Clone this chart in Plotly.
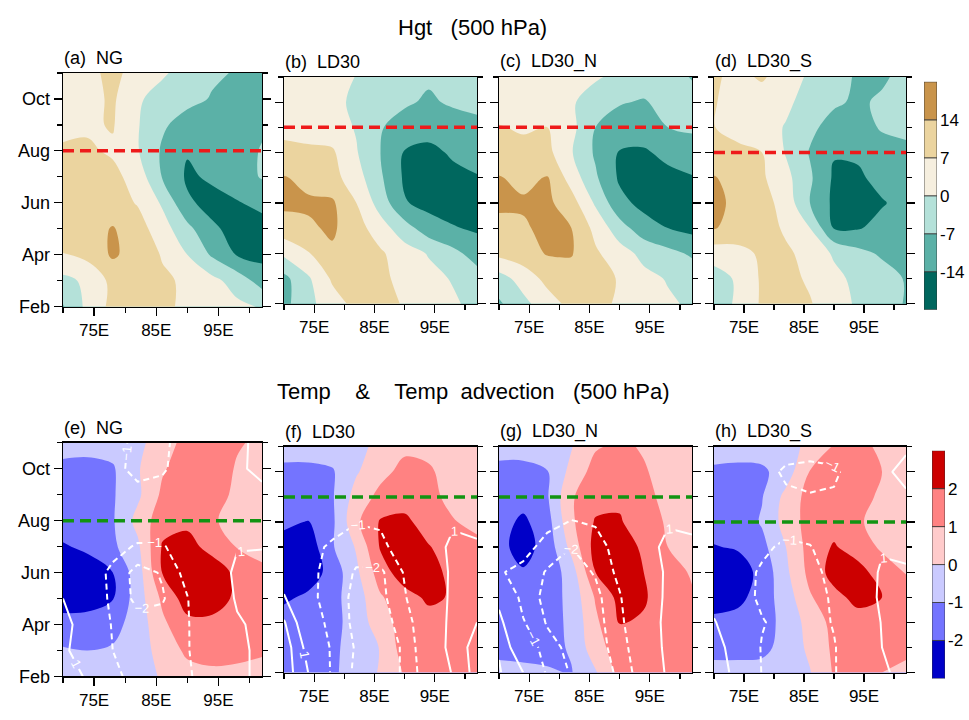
import plotly.graph_objects as go

# ---------------- data ----------------
LONS = [70, 74, 78, 82, 86, 90, 94, 98, 102]
MONTHS = [11, 10, 9, 8, 7, 6, 5, 4, 3, 2]          # rows of every grid, top -> bottom
MONTH_TICKS = [2, 4, 6, 8, 10]
MONTH_LABELS = ["Feb", "Apr", "Jun", "Aug", "Oct"]
MONTH_MINOR = [3, 5, 7, 9, 11]
LON_TICKS = [75, 85, 95]
LON_LABELS = ["75E", "85E", "95E"]
LON_MINOR = [70, 80, 90, 100]

HGT_LEVELS = [-14, -7, 0, 7, 14]
TEMP_LEVELS = [-2, -1, 0, 1, 2]
HGT_COLORS = ["#00675E", "#5BB1A7", "#B4E1D9", "#F6EFDF", "#EBD49F", "#C9944B"]
TEMP_COLORS = ["#0000C8", "#7474FF", "#CACAFF", "#FFCBCB", "#FF8282", "#CC0000"]

TOP_NAMES = ["(a)  NG", "(b)  LD30", "(c)  LD30_N", "(d)  LD30_S"]
BOT_NAMES = ["(e)  NG", "(f)  LD30", "(g)  LD30_N", "(h)  LD30_S"]
TOP_LINE_MONTH = [8, 9, 9, 8]
BOT_LINE_MONTH = [8, 9, 9, 8]

HGT_NG = [
    [3, 5, 9, 4, 1, -3, -6, -7.5, -9],
    [4, 5, 8, 1, -3, -5, -7.5, -9, -8.5],
    [5, 6, 7.5, 0.5, -6, -10, -12, -11, -8],
    [8, 8, 6, 0.5, -8, -13.5, -13, -10, -6.5],
    [9, 10, 9, 4, -7.5, -15, -13, -10, -6.5],
    [10, 10, 10, 6.5, -1, -13, -16, -14.5, -12],
    [10, 11, 14.5, 10, 3, -5, -13, -16, -17],
    [6.8, 9, 15, 11, 6.5, 0, -8, -14.5, -16],
    [-2, 1.5, 9, 9.5, 8, 6, 2, -3, -10],
    [-7.5, 2, 9, 9, 8, 6, 3, 1.5, -0.5],
]
HGT_LD30 = [
    [3, 3, 2.5, -0.2, -3, -4, -6, -4, -3],
    [3, 2, 2, -1.5, -4, -6, -8, -6, -5],
    [6, 4, 3, -0.5, -6.5, -10, -11, -10.5, -9],
    [8, 8.5, 8, 0.5, -7, -14.5, -16, -13, -11],
    [14.5, 12, 9.5, 3, -6, -15, -17, -16, -14.5],
    [15.5, 15, 15, 7, -3, -13.5, -16, -17, -16],
    [11, 13, 15, 10, 3, -4, -11, -13.5, -15],
    [1.5, 6.5, 13, 10, 8, 3, -0.5, -5, -10],
    [-9, -1, 8, 10, 8.5, 5, 2, -0.5, -4],
    [-9, -2, 4, 9, 9, 6.5, 3, 1, -2],
]
HGT_LD30_N = [
    [3, 3, 3, 2.5, 1, -2, -4, -4, -7.5],
    [3, 3, 3, 1, -4, -6.5, -7.5, -5, -4],
    [7.5, 6, 7, 2, -7, -10, -10, -7, -6],
    [9, 9.5, 9, 0.5, -8, -14.5, -15, -12, -10],
    [14.5, 12, 14.5, 4, -6, -15, -17, -16, -14.5],
    [16, 15, 15.5, 10, -1, -12, -16, -17, -17],
    [11, 13, 16, 14, 5, -4, -11, -14, -16],
    [9, 11, 14.5, 14.5, 8, 3, -2, -5, -8],
    [-3, 3, 9, 11, 9.5, 6.5, 2, -0.5, -3],
    [-8, -2, 4, 9, 9, 6, 3, 1, -1],
]
HGT_LD30_S = [
    [8, 5, 8, 3, -1, -4, -8, -8, -5],
    [7.5, 4, 3, 1.5, -3, -6, -8, -6, -5],
    [7.2, 4, 3, -0.5, -5.5, -9.5, -11, -6, -5],
    [9, 9, 7, -0.5, -7.5, -13.5, -13, -11, -9],
    [14.5, 11, 8, 2, -6, -15, -15, -12, -10],
    [16, 12, 10, 4, -7, -15.5, -17, -14.5, -12],
    [14.5, 11, 10, 6, 0, -14.5, -14.5, -12, -11],
    [3, 5, 8, 8, 5, -1, -5, -8, -9],
    [-3, 1, 8, 9, 6, 2, -2, -4, -7.5],
    [-3, 1, 8, 9, 7.5, 3, -1, -4, -7.5],
]

TEMP_NG = [
    [-0.5, -0.5, -0.6, -0.3, 0.6, 1.3, 1.4, 1.1, 0.8],
    [-1.3, -1.4, -1.1, -0.1, 0.9, 1.5, 1.6, 0.9, 0.7],
    [-1.4, -1.5, -1.1, -0.2, 1.2, 1.6, 1.4, 0.8, 0.6],
    [-1.5, -1.5, -1.1, 0.3, 1.6, 1.8, 1.1, 0.7, 0.6],
    [-2.1, -1.8, -1.2, -0.2, 2.1, 2.3, 1.7, 0.95, 0.7],
    [-2.6, -2.5, -2.0, -0.5, 2.05, 2.6, 2.5, 1.8, 1.2],
    [-2.5, -2.4, -2.05, -0.5, 1.2, 2.5, 2.5, 1.8, 1.3],
    [-1.6, -1.6, -1.3, -0.6, 0.8, 1.7, 1.7, 1.5, 1.3],
    [-0.9, -1.0, -0.9, -0.5, 0.4, 1.2, 1.3, 1.2, 1.1],
    [-0.6, -0.7, -0.6, -0.4, 0.1, 0.6, 0.8, 0.8, 0.7],
]
TEMP_LD30 = [
    [-0.5, -0.5, -0.5, -0.3, 0.3, 0.8, 0.8, 0.5, 0.5],
    [-1.3, -1.3, -1.1, -0.1, 0.7, 1.3, 1.1, 0.7, 0.6],
    [-1.4, -1.4, -1.1, 0.4, 1.3, 1.6, 1.2, 0.8, 0.6],
    [-1.8, -2.05, -1.2, 0.8, 2.1, 2.2, 1.6, 1.05, 0.8],
    [-2.4, -2.6, -1.1, 0.1, 2.1, 2.6, 2.05, 1.6, 1.2],
    [-2.6, -2.6, -1.6, -0.2, 1.5, 2.6, 2.4, 1.7, 1.3],
    [-2.2, -1.8, -1.3, -0.5, 0.9, 1.6, 2.2, 1.9, 1.4],
    [-1.5, -1.5, -1.3, -0.6, 0.6, 1.4, 1.6, 1.5, 1.3],
    [-1.4, -1.4, -1.2, -0.6, 0.05, 1.5, 1.4, 1.3, 1.2],
    [-1.3, -1.3, -1.15, -0.6, 0.1, 1.1, 1.4, 1.3, 1.2],
]
TEMP_LD30_N = [
    [-0.5, -0.5, -0.4, -0.05, 0.9, 1.2, 0.9, 0.5, 0.4],
    [-1.4, -1.4, -1.05, 0.3, 1.4, 1.6, 1.1, 0.6, 0.5],
    [-1.5, -1.6, -1.1, 0.9, 1.6, 1.8, 1.3, 0.7, 0.5],
    [-1.6, -2.2, -1.4, 0.8, 2.1, 2.1, 1.4, 0.9, 0.6],
    [-1.7, -2.4, -1.6, 0.3, 2.4, 2.6, 1.8, 1.0, 0.6],
    [-1.7, -1.9, -1.7, -0.5, 2.0, 2.6, 2.0, 1.4, 0.9],
    [-1.6, -1.6, -1.5, -0.7, 1.1, 2.3, 2.1, 1.5, 1.1],
    [-1.5, -1.5, -1.4, -0.8, 0.8, 2.05, 1.9, 1.5, 1.2],
    [-1.2, -1.3, -1.3, -0.9, 0.6, 1.5, 1.5, 1.4, 1.2],
    [-0.8, -0.8, -0.9, -1.05, -0.1, 1.3, 1.5, 1.4, 1.2],
]
TEMP_LD30_S = [
    [-0.5, -0.5, -0.5, -0.3, 0.2, 1.1, 1.3, 0.8, 0.6],
    [-1.2, -1.3, -1.2, -0.5, 1.05, 1.4, 1.5, 1.0, 0.7],
    [-1.5, -1.5, -1.05, 0.3, 1.4, 1.6, 1.4, 0.8, 0.6],
    [-1.6, -1.6, -0.9, 0.4, 1.4, 1.6, 1.1, 0.7, 0.6],
    [-2.05, -1.9, -1.3, 0.0, 1.4, 2.1, 1.5, 0.85, 0.7],
    [-2.5, -2.5, -1.7, -0.2, 1.3, 2.4, 2.4, 1.5, 0.95],
    [-2.4, -2.3, -1.5, -0.5, 0.9, 1.7, 2.3, 2.0, 1.5],
    [-1.8, -1.6, -1.4, -0.7, 0.4, 1.3, 1.6, 1.5, 1.3],
    [-1.4, -1.4, -1.3, -0.6, 0.2, 1.2, 1.4, 1.3, 1.2],
    [-0.6, -0.6, -0.6, -0.5, -0.05, 1.1, 1.3, 1.0, 0.8],
]

ADV_NG = [
    [0, 0, -0.3, -1.5, -1.3, -0.3, 0.2, 0.6, 1.5],
    [0, 0, -0.5, -1.5, -1.2, -0.2, 0.3, 0.8, 1.3],
    [0, 0, -0.3, -0.5, -0.4, 0, 0.3, 0.6, 0.7],
    [0, 0, -0.2, -0.4, -0.4, 0, 0.3, 0.6, 0.7],
    [0, -0.2, -0.7, -1.1, -1.1, -0.4, 0.3, 0.95, 0.95],
    [0.2, -0.5, -1.2, -2.4, -1.9, -0.6, 0.4, 1.2, 1.4],
    [1.0, -0.3, -1.2, -2.3, -2.1, -1.05, 0.3, 1.1, 1.3],
    [1.5, 0.2, -1.1, -1.6, -1.6, -1.1, 0.2, 0.9, 1.2],
    [1.2, 0.4, -1.0, -1.4, -1.4, -1.1, 0.1, 0.8, 1.2],
    [1.8, 0.8, -0.8, -1.3, -1.3, -1.2, -0.2, 0.8, 1.2],
]
ADV_LD30 = [
    [0, 0, 0, 0, 0, 0, 0, 0.3, 0.5],
    [0, 0, 0, -0.1, -0.1, 0, 0.2, 0.5, 0.7],
    [0, 0, -0.1, -0.3, -0.4, -0.2, 0.2, 0.6, 0.8],
    [0, -0.2, -0.5, -0.95, -0.9, -0.5, 0.2, 0.85, 0.8],
    [0.1, -0.6, -1.2, -1.6, -1.2, -0.6, 0.3, 1.3, 1.1],
    [0.3, -0.7, -1.4, -2.1, -2.2, -0.9, 0.2, 1.2, 1.1],
    [1.1, -0.6, -1.6, -2.2, -2.3, -1.1, 0.3, 1.2, 1.3],
    [2.1, 0.0, -1.5, -2.2, -2.4, -1.6, 0.2, 1.3, 2.0],
    [2.6, 0.6, -1.2, -2.1, -2.4, -1.9, 0.1, 1.4, 2.4],
    [2.6, 1.0, -1.2, -2.2, -2.4, -1.9, -0.2, 1.1, 2.4],
]
ADV_LD30_N = [
    [0, 0, 0, 0, 0, 0, 0.2, 0.4, 0.5],
    [0, 0, 0, -0.1, -0.1, 0, 0.2, 0.5, 0.6],
    [0, -0.1, -0.2, -0.4, -0.4, -0.2, 0.2, 0.6, 0.7],
    [0, -0.3, -0.7, -1.05, -0.9, -0.4, 0.3, 0.9, 0.8],
    [-0.2, -0.6, -1.4, -2.0, -1.4, -0.6, 0.5, 1.3, 1.2],
    [-0.9, -1.3, -2.1, -2.5, -1.9, -0.7, 0.4, 1.15, 1.2],
    [0.6, -1.4, -2.3, -2.6, -2.3, -1.1, 0.3, 1.2, 1.2],
    [1.4, -0.9, -2.1, -2.5, -2.4, -1.3, 0.3, 1.3, 1.3],
    [1.9, 0.0, -1.6, -2.3, -2.4, -1.6, 0.1, 1.3, 1.3],
    [2.1, 1.0, -1.2, -2.1, -2.3, -1.9, -0.2, 1.2, 1.3],
]
ADV_LD30_S = [
    [0, 0, 0, -0.2, -0.3, -0.2, 0.2, 0.6, 0.8],
    [0, 0, -0.3, -1.3, -1.5, -1.3, -0.1, 0.7, 1.4],
    [0, 0, -0.2, -0.7, -0.9, -0.8, 0, 0.6, 0.8],
    [0, 0, -0.2, -0.4, -0.5, -0.4, 0.1, 0.6, 0.7],
    [0, -0.2, -0.7, -1.3, -1.05, -0.5, 0.3, 0.9, 0.8],
    [0.2, -0.4, -1.2, -1.6, -1.4, -0.6, 0.3, 1.15, 1.1],
    [0.5, -0.3, -1.3, -1.7, -1.6, -0.8, 0.3, 1.2, 1.2],
    [1.1, 0.0, -0.9, -1.5, -1.6, -0.9, 0.2, 1.05, 1.2],
    [1.5, 0.4, -1.1, -1.5, -1.5, -1.1, 0.1, 1.0, 1.2],
    [1.7, 0.6, -1.05, -1.4, -1.4, -1.1, 0.0, 0.9, 1.2],
]

HGT_FIELDS = [HGT_NG, HGT_LD30, HGT_LD30_N, HGT_LD30_S]
TEMP_FIELDS = [TEMP_NG, TEMP_LD30, TEMP_LD30_N, TEMP_LD30_S]
ADV_FIELDS = [ADV_NG, ADV_LD30, ADV_LD30_N, ADV_LD30_S]

# ---------------- layout geometry ----------------
W, H = 969, 720
FONT = "Liberation Sans, Arial, Helvetica, sans-serif"
COL_X = [(63, 262), (284, 477), (499, 692), (714, 906)]
TOP_Y = [(74, 311), (78, 308), (78, 308), (78, 308)]
BOT_Y = [(449, 686), (453, 682), (453, 682), (453, 682)]


def px_x(p):
    return p / W


def px_y(p):
    return 1 - p / H


def px_dom_x(a, b):
    return [px_x(a), px_x(b)]


def px_dom_y(top, bottom):
    return [px_y(bottom), px_y(top)]


def band_scale(colors):
    n = len(colors) - 1
    return [[i / n, c] for i, c in enumerate(colors)]


months_asc = MONTHS[::-1]
fig = go.Figure()
layout = {}
annotations = []


def axis_names(n):
    return ("xaxis" if n == 1 else f"xaxis{n}", "yaxis" if n == 1 else f"yaxis{n}",
            "x" if n == 1 else f"x{n}", "y" if n == 1 else f"y{n}")


def add_panel(n, col, ydom_px, field, levels, colors, line_month, line_color, name, adv=None):
    xa, ya, xr, yr = axis_names(n)
    step = levels[1] - levels[0]
    fig.add_trace(go.Contour(
        x=LONS, y=months_asc, z=field[::-1], autocontour=False,
        contours=dict(start=levels[0], end=levels[-1], size=step, coloring="fill", showlines=False),
        colorscale=band_scale(colors), showscale=False, line=dict(width=0),
        xaxis=xr, yaxis=yr, hoverinfo="skip"))
    if adv is not None:
        for (s, e, dash) in [(-2, -1, "6px,4px"), (1, 2, "solid")]:
            fig.add_trace(go.Contour(
                x=LONS, y=months_asc, z=adv[::-1], autocontour=False,
                contours=dict(start=s, end=e, size=1, coloring="lines", showlabels=True,
                              labelfont=dict(size=13, color="white", family=FONT)),
                colorscale=[[0, "white"], [1, "white"]], showscale=False,
                line=dict(width=2, dash=dash, smoothing=0),
                xaxis=xr, yaxis=yr, hoverinfo="skip"))
    fig.add_trace(go.Scatter(
        x=[LONS[0], LONS[-1]], y=[line_month, line_month], mode="lines",
        line=dict(color=line_color, width=3.5, dash="11px,6px"),
        xaxis=xr, yaxis=yr, showlegend=False, hoverinfo="skip"))
    xd = px_dom_x(*COL_X[col])
    yd = px_dom_y(*ydom_px)
    layout[xa] = dict(
        domain=xd, anchor=yr, range=[LONS[0], LONS[-1]], tickmode="array",
        tickvals=LON_TICKS, ticktext=LON_LABELS, ticks="outside", ticklen=8, tickwidth=1.2,
        tickcolor="black", showline=True, linecolor="black", linewidth=1.3, mirror=True,
        showgrid=False, zeroline=False, tickfont=dict(size=17, color="black", family=FONT),
        minor=dict(tickmode="array", tickvals=LON_MINOR, ticks="outside", ticklen=5,
                   tickwidth=1.2, tickcolor="black", showgrid=False))
    layout[ya] = dict(
        domain=yd, anchor=xr, range=[months_asc[0], months_asc[-1]], tickmode="array",
        tickvals=MONTH_TICKS, ticktext=MONTH_LABELS, showticklabels=(col == 0),
        ticks="outside", ticklen=8, tickwidth=1.2, tickcolor="black", showline=True,
        linecolor="black", linewidth=1.3, mirror="ticks", showgrid=False, zeroline=False,
        tickfont=dict(size=18, color="black", family=FONT),
        minor=dict(tickmode="array", tickvals=MONTH_MINOR, ticks="outside", ticklen=5,
                   tickwidth=1.2, tickcolor="black", showgrid=False))
    annotations.append(dict(
        text=name.replace(" ", "\u00a0"), xref="paper", yref="paper", x=xd[0] - 0.001,
        y=yd[1] + 0.004, xanchor="left", yanchor="bottom", showarrow=False,
        font=dict(size=18, color="black", family=FONT)))


for c in range(4):
    add_panel(c + 1, c, TOP_Y[c], HGT_FIELDS[c], HGT_LEVELS, HGT_COLORS,
              TOP_LINE_MONTH[c], "#EE1A1A", TOP_NAMES[c])
for c in range(4):
    add_panel(c + 5, c, BOT_Y[c], TEMP_FIELDS[c], TEMP_LEVELS, TEMP_COLORS,
              BOT_LINE_MONTH[c], "#129412", BOT_NAMES[c], adv=ADV_FIELDS[c])


def add_colorbar(n, xpx, ypx, colors, levels):
    xa, ya, xr, yr = axis_names(n)
    k = len(colors)
    fig.add_trace(go.Bar(
        x=[0] * k, y=[1] * k, base=list(range(k)), width=1,
        marker=dict(color=colors, line=dict(color="#333333", width=0.8)),
        xaxis=xr, yaxis=yr, showlegend=False, hoverinfo="skip"))
    layout[xa] = dict(domain=px_dom_x(*xpx), anchor=yr, range=[-0.5, 0.5], visible=False,
                      fixedrange=True)
    layout[ya] = dict(domain=px_dom_y(*ypx), anchor=xr, range=[0, k], side="right",
                      tickmode="array", tickvals=list(range(1, k)),
                      ticktext=[str(v) for v in levels], ticks="", ticklen=0, showline=False,
                      showgrid=False, zeroline=False, ticklabelstandoff=2,
                      tickfont=dict(size=17, color="black", family=FONT))


add_colorbar(9, (924, 937), (83, 314), HGT_COLORS, HGT_LEVELS)
add_colorbar(10, (932, 945), (457, 688), TEMP_COLORS, TEMP_LEVELS)

annotations.append(dict(text="Hgt\u00a0\u00a0\u00a0(500 hPa)", xref="paper", yref="paper",
                        x=px_x(472), y=px_y(28), xanchor="center", yanchor="middle",
                        showarrow=False, font=dict(size=22, color="black", family=FONT)))
annotations.append(dict(
    text="Temp\u00a0\u00a0\u00a0\u00a0&\u00a0\u00a0\u00a0\u00a0Temp\u00a0\u00a0advection\u00a0\u00a0\u00a0(500 hPa)",
    xref="paper", yref="paper", x=px_x(473), y=px_y(397), xanchor="center", yanchor="middle",
    showarrow=False, font=dict(size=22, color="black", family=FONT)))

fig.update_layout(
    width=W, height=H, margin=dict(l=0, r=0, t=0, b=0),
    paper_bgcolor="white", plot_bgcolor="white", showlegend=False,
    font=dict(family=FONT, color="black"), annotations=annotations, **layout)

# remove the page's default body margin so the figure fills the 969x720 window exactly
fig.write_html("out.html", config={"displayModeBar": False, "staticPlot": True},
               post_script="document.body.style.margin='0';document.body.style.overflow='hidden';")
